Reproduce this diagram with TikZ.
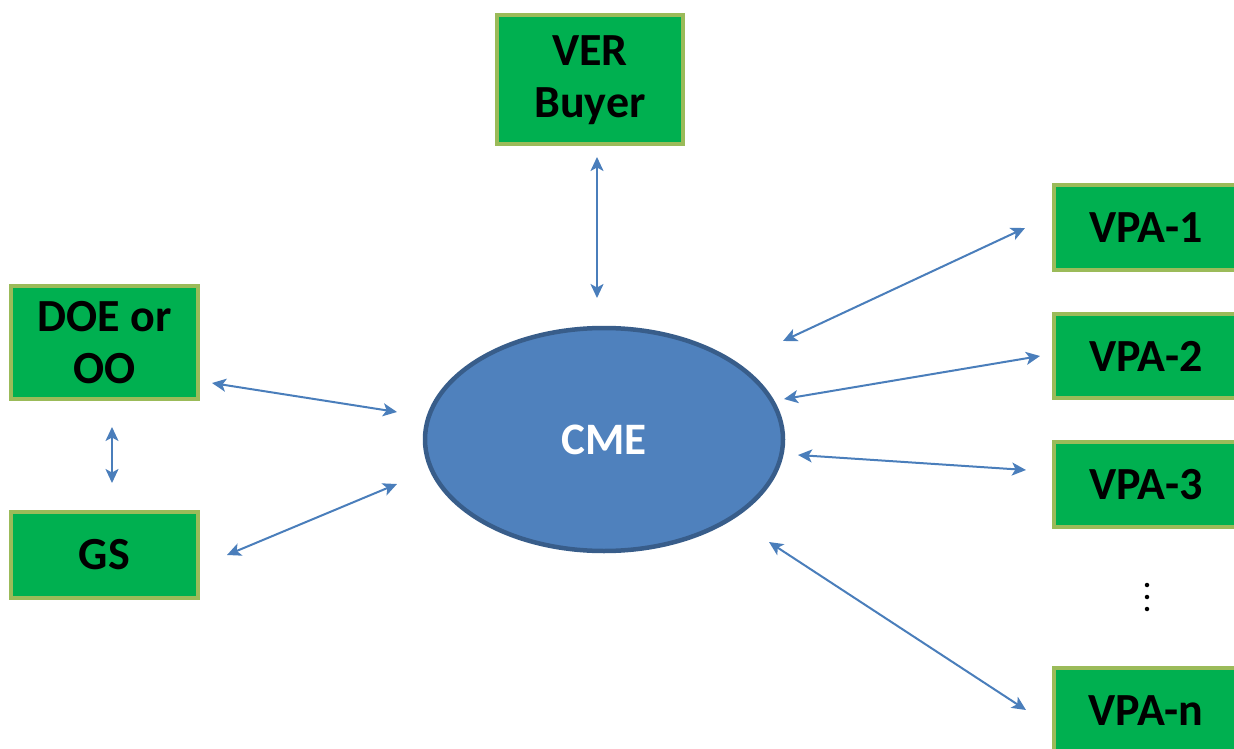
\documentclass[tikz,border=0pt]{standalone}
\usepackage{fontspec}
\setmainfont{Carlito}
\usetikzlibrary{arrows.meta,shapes.geometric}
\definecolor{boxfill}{HTML}{00B050}
\definecolor{boxedge}{HTML}{9BBB59}
\definecolor{cmefill}{HTML}{4F81BD}
\definecolor{cmeedge}{HTML}{385D8A}
\definecolor{linkcol}{HTML}{4A7EBB}
\tikzset{
  party/.style={draw=boxedge, fill=boxfill, line width=4pt, rectangle,
    align=center, inner sep=0pt, font=\bfseries\fontsize{46}{52}\selectfont},
  hub/.style={ellipse, draw=cmeedge, fill=cmefill, line width=4.5pt,
    minimum width=358pt, minimum height=223pt, inner sep=0pt,
    text=white, font=\bfseries\fontsize{45}{50}\selectfont},
  tip/.style={Stealth[length=14pt,width=13pt,inset=3.5pt]},
  link/.style={draw=linkcol, line width=2pt, {Stealth[length=14pt,width=13pt,inset=3.5pt]}-{Stealth[length=14pt,width=13pt,inset=3.5pt]}},
  dot/.style={circle, fill=black, inner sep=0pt, minimum size=4.5pt}
}
\begin{document}
\begin{tikzpicture}[x=1pt,y=-1pt]
  \useasboundingbox (0,0) rectangle (1234,749);
  \clip (0,0) rectangle (1234,749);

  % participants
  \node[party, minimum width=186pt, minimum height=129pt] (ver) at (590,80) {VER\\Buyer};
  \node[party, minimum width=187pt, minimum height=113pt] (doe) at (104.5,342.5) {DOE or\\OO};
  \node[party, minimum width=187pt, minimum height=86pt] (gs) at (104.5,555) {GS};
  \node[party, minimum width=184pt, minimum height=85pt] (vpa1) at (1146,227.5) {VPA-1};
  \node[party, minimum width=184pt, minimum height=84pt] (vpa2) at (1146,356) {VPA-2};
  \node[party, minimum width=184pt, minimum height=85pt] (vpa3) at (1146,484.5) {VPA-3};
  \node[party, minimum width=184pt, minimum height=85pt] (vpan) at (1146,710.5) {VPA-n};

  % central entity
  \node[hub] (cme) at (604,439.5) {CME};

  % vertical ellipsis between VPA-3 and VPA-n
  \node[dot] (d1) at (1147,585) {};
  \node[dot] (d2) at (1147,597) {};
  \node[dot] (d3) at (1147,609) {};

  % connector end points
  \coordinate (verA) at (597,157);   \coordinate (verB) at (597,298);
  \coordinate (doeA) at (212,383);   \coordinate (doeB) at (397,412);
  \coordinate (dgA)  at (112,427);   \coordinate (dgB)  at (112,483);
  \coordinate (gsA)  at (227,555);   \coordinate (gsB)  at (397,484);
  \coordinate (v1A)  at (1025,228);  \coordinate (v1B)  at (783,341);
  \coordinate (v2A)  at (1040,356);  \coordinate (v2B)  at (784,399);
  \coordinate (v3A)  at (1026,470);  \coordinate (v3B)  at (798,455);
  \coordinate (vnA)  at (1026,710);  \coordinate (vnB)  at (769,542);

  % two-way links
  \draw[link] (verA) -- (verB);
  \draw[link] (doeA) -- (doeB);
  \draw[link] (dgA) -- (dgB);
  \draw[link] (gsA) -- (gsB);
  \draw[link] (v1A) -- (v1B);
  \draw[link] (v2A) -- (v2B);
  \draw[link] (v3A) -- (v3B);
  \draw[link] (vnA) -- (vnB);
\end{tikzpicture}
\end{document}
